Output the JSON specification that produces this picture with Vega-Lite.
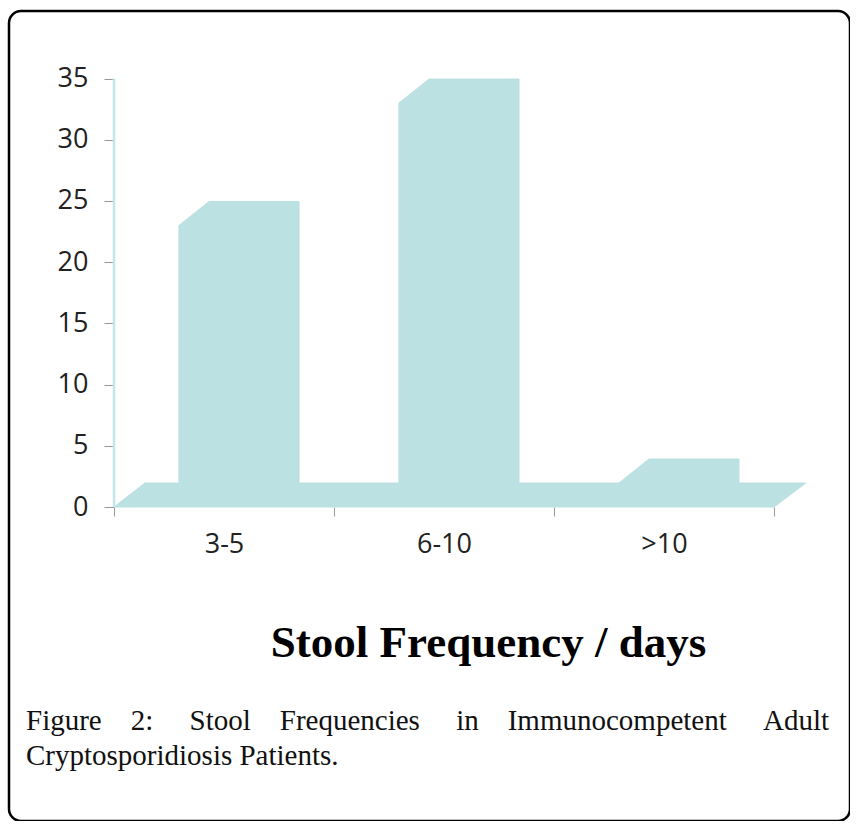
{
  "$schema": "https://vega.github.io/schema/vega-lite/v6.json",
  "width": 841,
  "height": 810,
  "autosize": {"type": "none"},
  "padding": {"left": 9, "top": 11, "right": 0, "bottom": 0},
  "background": "white",
  "view": {"stroke": "#000000", "strokeWidth": 2.5, "cornerRadius": 12, "fill": "white"},
  "title": {
    "text": ["Figure\u00a0\u00a0\u00a0\u00a02:\u00a0\u00a0\u00a0\u00a0\u00a0Stool\u00a0\u00a0\u00a0\u00a0Frequencies\u00a0\u00a0\u00a0\u00a0\u00a0in\u00a0\u00a0\u00a0\u00a0Immunocompetent\u00a0\u00a0\u00a0\u00a0\u00a0Adult", "Cryptosporidiosis Patients."],
    "orient": "bottom",
    "anchor": "start",
    "frame": "group",
    "offset": -114,
    "dx": 17,
    "font": "Liberation Serif",
    "fontSize": 29,
    "fontWeight": "normal",
    "lineHeight": 35,
    "color": "#111111"
  },
  "config": {
    "axis": {"grid": false}
  },
  "layer": [
    {
      "data": {
        "values": [
          {"o": 1, "x": 0, "y": 0},
          {"o": 2, "x": 0.14, "y": 1.96},
          {"o": 3, "x": 0.295, "y": 1.96},
          {"o": 4, "x": 0.295, "y": 23},
          {"o": 5, "x": 0.432, "y": 24.96},
          {"o": 6, "x": 0.841, "y": 24.96},
          {"o": 7, "x": 0.841, "y": 1.96},
          {"o": 8, "x": 1.295, "y": 1.96},
          {"o": 9, "x": 1.295, "y": 33},
          {"o": 10, "x": 1.432, "y": 34.96},
          {"o": 11, "x": 1.841, "y": 34.96},
          {"o": 12, "x": 1.841, "y": 1.96},
          {"o": 13, "x": 2.295, "y": 1.96},
          {"o": 14, "x": 2.432, "y": 3.92},
          {"o": 15, "x": 2.841, "y": 3.92},
          {"o": 16, "x": 2.841, "y": 1.96},
          {"o": 17, "x": 3.145, "y": 1.96},
          {"o": 18, "x": 3.0, "y": 0},
          {"o": 19, "x": 0, "y": 0}
        ]
      },
      "mark": {"type": "line", "fill": "#bce1e2", "stroke": "#bce1e2", "strokeWidth": 1, "interpolate": "linear"},
      "encoding": {
        "x": {
          "field": "x",
          "type": "quantitative",
          "scale": {"domain": [-0.4773, 3.3455], "nice": false, "zero": false},
          "axis": {
            "values": [0, 0.5, 1, 1.5, 2, 2.5, 3],
            "offset": -314,
            "domain": false,
            "tickSize": 9,
            "tickWidth": 1,
            "tickColor": {"condition": {"test": "datum.value % 1 != 0", "value": "transparent"}, "value": "#999999"},
            "labelExpr": "datum.value == 0.5 ? '3-5' : datum.value == 1.5 ? '6-10' : datum.value == 2.5 ? '>10' : ''",
            "labelFont": "Open Sans",
            "labelFontSize": 27,
            "labelColor": "#222222",
            "labelPadding": 15,
            "labelFlush": false,
            "labelOverlap": false,
            "labelBound": false,
            "title": "Stool Frequency / days",
            "titleFont": "Liberation Serif",
            "titleFontSize": 45,
            "titleFontWeight": "bold",
            "titleColor": "#000000",
            "titleX": 479,
            "titleY": 149,
            "titleAlign": "center",
            "titleBaseline": "alphabetic"
          }
        },
        "y": {
          "field": "y",
          "type": "quantitative",
          "scale": {"domain": [-25.65, 40.52], "nice": false, "zero": false},
          "axis": {
            "values": [0, 5, 10, 15, 20, 25, 30, 35],
            "offset": -105,
            "domain": false,
            "tickSize": 10,
            "tickColor": "#999999",
            "labelFont": "Open Sans",
            "labelFontSize": 27,
            "labelColor": "#222222",
            "labelPadding": 16,
            "labelOverlap": false,
            "labelBound": false,
            "title": null
          }
        },
        "order": {"field": "o", "type": "quantitative"}
      }
    },
    {
      "data": {"values": [{"x": 0, "y": 0, "end": 35}]},
      "mark": {"type": "rule", "color": "#c4e6e8", "strokeWidth": 2.5},
      "encoding": {
        "x": {"field": "x", "type": "quantitative"},
        "y": {"field": "y", "type": "quantitative"},
        "y2": {"field": "end"}
      }
    }
  ]
}
